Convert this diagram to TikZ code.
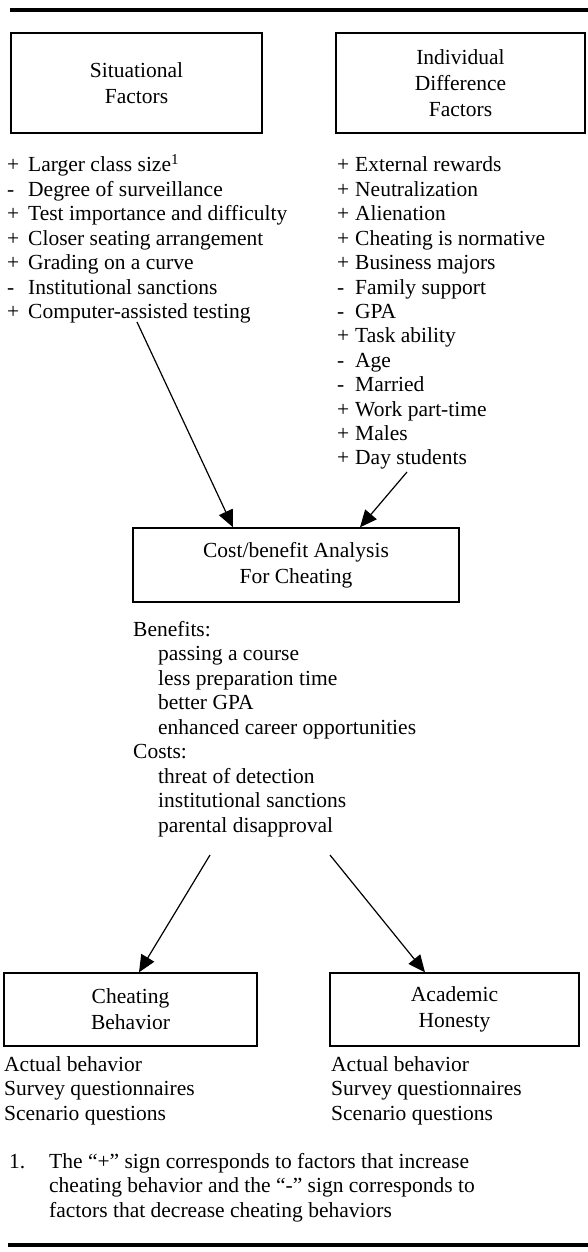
\documentclass[tikz,border=0pt]{standalone}
\usepackage{fontspec}
\setmainfont{Liberation Serif}
\usetikzlibrary{arrows.meta}
\newcommand\sgn[2]{\makebox[#1][l]{#2}}
\begin{document}
\begin{tikzpicture}[x=1pt,y=-1pt,
  box/.style={draw, line width=1.4pt, align=center, inner sep=0pt, font=\fontsize{21.5}{26}\selectfont},
  txt/.style={anchor=base west, inner sep=0pt, font=\fontsize{21.5}{25}\selectfont},
  arr/.style={line width=1.2pt, -{Triangle[length=17pt,width=15pt]}},
  rulestyle/.style={line width=4.5pt}]
\useasboundingbox (0,0) rectangle (588,1252);
% rules
\coordinate (r1a) at (10,10); \coordinate (r1b) at (588,10);
\draw[rulestyle] (r1a) -- (r1b);
\coordinate (r2a) at (8,1245); \coordinate (r2b) at (588,1245);
\draw[rulestyle] (r2a) -- (r2b);
% boxes
\node[box, minimum width=251pt, minimum height=100pt] (sit) at (136.5,83) {Situational\\Factors};
\node[box, minimum width=249pt, minimum height=100pt] (ind) at (460.5,83) {Individual\\Difference\\Factors};
\node[box, minimum width=326pt, minimum height=74pt] (cost) at (296,565) {Cost/benefit Analysis\\For Cheating};
\node[box, minimum width=253pt, minimum height=73pt] (cheat) at (130.5,1009.5) {Cheating\\Behavior};
\node[box, minimum width=249pt, minimum height=73pt] (acad) at (454.5,1009.5) {Academic\\Honesty};
% left list
\node[txt] (l1) at (7,172.0) {\sgn{21pt}{+}Larger class size\textsuperscript{1}};
\node[txt] (l2) at (7,196.4) {\sgn{21pt}{-}Degree of surveillance};
\node[txt] (l3) at (7,220.8) {\sgn{21pt}{+}Test importance and difficulty};
\node[txt] (l4) at (7,245.2) {\sgn{21pt}{+}Closer seating arrangement};
\node[txt] (l5) at (7,269.6) {\sgn{21pt}{+}Grading on a curve};
\node[txt] (l6) at (7,294.0) {\sgn{21pt}{-}Institutional sanctions};
\node[txt] (l7) at (7,318.4) {\sgn{21pt}{+}Computer-assisted testing};
% right list
\node[txt] (r1) at (337,172.0) {\sgn{18pt}{+}External rewards};
\node[txt] (r2) at (337,196.4) {\sgn{18pt}{+}Neutralization};
\node[txt] (r3) at (337,220.8) {\sgn{18pt}{+}Alienation};
\node[txt] (r4) at (337,245.2) {\sgn{18pt}{+}Cheating is normative};
\node[txt] (r5) at (337,269.6) {\sgn{18pt}{+}Business majors};
\node[txt] (r6) at (337,294.0) {\sgn{18pt}{-}Family support};
\node[txt] (r7) at (337,318.4) {\sgn{18pt}{-}GPA};
\node[txt] (r8) at (337,342.8) {\sgn{18pt}{+}Task ability};
\node[txt] (r9) at (337,367.2) {\sgn{18pt}{-}Age};
\node[txt] (r10) at (337,391.6) {\sgn{18pt}{-}Married};
\node[txt] (r11) at (337,416.0) {\sgn{18pt}{+}Work part-time};
\node[txt] (r12) at (337,440.4) {\sgn{18pt}{+}Males};
\node[txt] (r13) at (337,464.8) {\sgn{18pt}{+}Day students};
% cost/benefit list
\node[txt] (b0) at (133,636.0) {Benefits:};
\node[txt] (b1) at (158,660.5) {passing a course};
\node[txt] (b2) at (158,685.0) {less preparation time};
\node[txt] (b3) at (158,709.5) {better GPA};
\node[txt] (b4) at (158,734.0) {enhanced career opportunities};
\node[txt] (c0) at (133,758.5) {Costs:};
\node[txt] (c1) at (158,783.0) {threat of detection};
\node[txt] (c2) at (158,807.5) {institutional sanctions};
\node[txt] (c3) at (158,832.0) {parental disapproval};
% outcome lists
\node[txt] (ca1) at (4,1071.0) {Actual behavior};
\node[txt] (ca2) at (4,1095.5) {Survey questionnaires};
\node[txt] (ca3) at (4,1120.0) {Scenario questions};
\node[txt] (ha1) at (331,1071.0) {Actual behavior};
\node[txt] (ha2) at (331,1095.5) {Survey questionnaires};
\node[txt] (ha3) at (331,1120.0) {Scenario questions};
% footnote
\node[txt] (fn0) at (9,1168) {1.};
\node[txt] (fn1) at (49,1168) {The “+” sign corresponds to factors that increase};
\node[txt] (fn2) at (49,1192.5) {cheating behavior and the “-” sign corresponds to};
\node[txt] (fn3) at (49,1217) {factors that decrease cheating behaviors};
% arrows
\coordinate (a1s) at (137,322);
\coordinate (a2s) at (407,472);
\coordinate (a3s) at (210,855);
\coordinate (a4s) at (330,855);
\draw[arr] (a1s) -- ([xshift=-63pt]cost.north);
\draw[arr] (a2s) -- ([xshift=64pt]cost.north);
\draw[arr] (a3s) -- ([xshift=8.5pt]cheat.north);
\draw[arr] (a4s) -- ([xshift=-29.5pt]acad.north);
\end{tikzpicture}
\end{document}
